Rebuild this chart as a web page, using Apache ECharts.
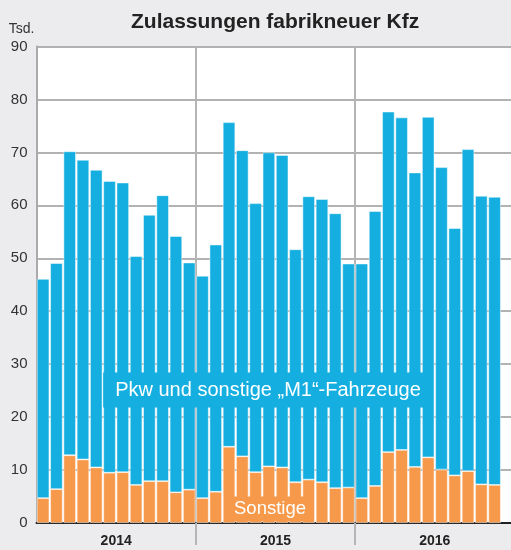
<!DOCTYPE html>
<html>
<head>
<meta charset="utf-8">
<script src="https://cdn.jsdelivr.net/npm/echarts@6/dist/echarts.min.js"></script>
<style>
  html, body { margin: 0; padding: 0; background: #ececee; }
  #chart { width: 511px; height: 550px; }
</style>
</head>
<body>
<div id="chart"></div>
<script>
// Monthly new vehicle registrations (thousands), Jan 2014 – Nov 2016
const years = ['2014', '2015', '2016'];
const months = [];
years.forEach(y => { for (let m = 1; m <= 12; m++) months.push(y + '-' + m); });

// total registrations per month
const totals = [
  46.1, 49.1, 70.2, 68.6, 66.7, 64.6, 64.3, 50.4, 58.2, 61.9, 54.2, 49.2,
  46.7, 52.6, 75.7, 70.4, 60.4, 70.0, 69.5, 51.7, 61.7, 61.2, 58.5, 49.0,
  49.0, 58.9, 77.7, 76.6, 66.2, 76.7, 67.2, 55.7, 70.6, 61.8, 61.6
];
// other vehicle classes ("Sonstige")
const sonstige = [
  4.7, 6.4, 12.8, 12.0, 10.5, 9.5, 9.6, 7.2, 7.9, 7.9, 5.8, 6.3,
  4.7, 5.9, 14.4, 12.6, 9.6, 10.7, 10.5, 7.7, 8.2, 7.7, 6.6, 6.7,
  4.7, 7.0, 13.4, 13.8, 10.6, 12.4, 10.1, 9.0, 9.8, 7.3, 7.2
];
// passenger cars and other M1 vehicles = total minus others
const pkw = totals.map((t, i) => +(t - sonstige[i]).toFixed(1));

const yTicks = [0, 10, 20, 30, 40, 50, 60, 70, 80, 90];
const FONT = '"Liberation Sans", Arial, sans-serif';
const BLUE = '#14afe0';
const ORANGE = '#f7994a';

const chart = echarts.init(document.getElementById('chart'));
chart.setOption({
  backgroundColor: '#ececee',
  animation: false,
  title: {
    text: 'Zulassungen fabrikneuer Kfz',
    left: 126, top: 7,
    textStyle: { fontFamily: FONT, fontSize: 21, fontWeight: 'bold', color: '#222' }
  },
  grid: {
    left: 36.5, width: 478, top: 46.5, bottom: 27,
    outerBoundsMode: 'none',
    show: true, backgroundColor: '#ffffff', borderWidth: 0
  },
  xAxis: [
    {
      type: 'category', data: months, position: 'bottom',
      axisLine: { show: true, lineStyle: { color: '#222', width: 2 } },
      axisTick: { show: false }, axisLabel: { show: false },
      splitLine: { show: false }
    },
    {
      type: 'category', data: years, position: 'bottom',
      axisLine: { show: false },
      axisTick: { show: true, length: 22, lineStyle: { color: '#b5b5b5', width: 2 },
                  interval: i => i > 0 },
      axisLabel: { show: true, margin: 11, fontFamily: FONT,
                   fontSize: 14, fontWeight: 'bold', color: '#222' },
      splitLine: { show: true, lineStyle: { color: '#b5b5b5', width: 2 }, interval: i => i > 0 }
    }
  ],
  yAxis: {
    type: 'value', min: 0, max: 90, interval: 10,
    name: 'Tsd.', nameLocation: 'end', nameGap: 10,
    nameTextStyle: { fontFamily: FONT, fontSize: 14, color: '#333', align: 'right', padding: [0, 2, 0, 0] },
    axisLine: { show: true, lineStyle: { color: '#aaaaaa', width: 2 } },
    axisTick: { show: false },
    axisLabel: {
      margin: 9, fontFamily: FONT, fontSize: 15, color: '#333',
      formatter: v => yTicks.includes(v) ? String(v) : ''
    },
    splitLine: { show: true, lineStyle: { color: '#999999', width: 1.5 } }
  },
  series: [
    {
      name: 'Sonstige', type: 'bar', stack: 'kfz', xAxisIndex: 0,
      data: sonstige, barCategoryGap: '6%',
      itemStyle: { color: ORANGE, borderColor: 'rgba(255,255,255,0.6)', borderWidth: 0.8 }
    },
    {
      name: 'Pkw und sonstige „M1“-Fahrzeuge', type: 'bar', stack: 'kfz', xAxisIndex: 0,
      data: pkw, barCategoryGap: '6%',
      itemStyle: { color: BLUE, borderColor: 'rgba(255,255,255,0.6)', borderWidth: 0.8 }
    }
  ],
  graphic: [
    {
      type: 'text', x: 268, y: 390, z: 100,
      style: { text: 'Pkw und sonstige „M1“-Fahrzeuge', fill: '#ffffff',
               font: '20px ' + FONT, textAlign: 'center', textVerticalAlign: 'middle',
               align: 'center', verticalAlign: 'middle',
               backgroundColor: BLUE, padding: [8, 12, 7, 12] }
    },
    {
      type: 'text', x: 270, y: 509, z: 100,
      style: { text: 'Sonstige', fill: '#ffffff',
               font: '18.5px ' + FONT, textAlign: 'center', textVerticalAlign: 'middle',
               align: 'center', verticalAlign: 'middle',
               backgroundColor: ORANGE, padding: [3, 5, 3, 5] }
    }
  ]
});
</script>
</body>
</html>
